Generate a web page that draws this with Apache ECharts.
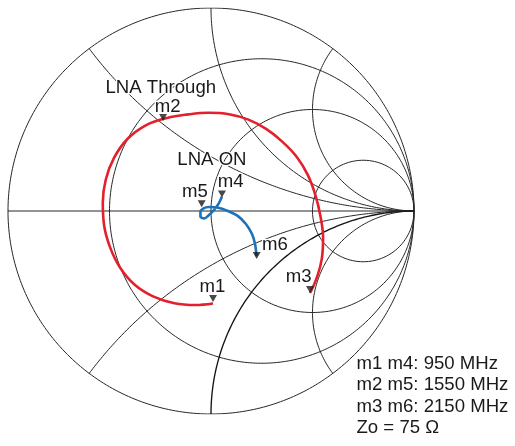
<!DOCTYPE html>
<html><head><meta charset="utf-8">
<script src="https://cdn.jsdelivr.net/npm/echarts@6/dist/echarts.min.js"></script>
<style>html,body{margin:0;padding:0;background:#fff}#c{width:515px;height:446px}</style>
</head><body><div id="c"></div>
<script>
// ---- Smith chart grid values ----
const resistanceCircles = [0, 1/3, 1, 3];
const reactanceArcs = [0.5, 1, 2, -0.5, -2];
const boldReactanceArcs = [-1];

// ---- Traces (reflection coefficient, real / imaginary) ----
const throughRe = [0.0099,-0.0778,-0.1803,-0.2828,-0.3759,-0.4483,-0.4975,-0.5266,-0.5330,-0.5182,-0.4778,-0.4118,-0.3212,-0.2163,-0.1123,-0.0118,0.0882,0.1847,0.2734,0.3522,0.4227,0.4773,0.5148,0.5404,0.5522,0.5458,0.5241,0.4877];
const throughIm = [-0.4557,-0.4631,-0.4542,-0.4217,-0.3631,-0.2783,-0.1778,-0.0700,0.0424,0.1552,0.2616,0.3547,0.4222,0.4586,0.4759,0.4837,0.4768,0.4502,0.4030,0.3404,0.2660,0.1768,0.0764,-0.0325,-0.1315,-0.2360,-0.3197,-0.4039];
const onRe = [0.054,0.039,0.015,-0.010,-0.034,-0.052,-0.052,-0.039,-0.010,0.030,0.079,0.133,0.172,0.202,0.217,0.224];
const onIm = [0.071,0.039,0.005,-0.020,-0.037,-0.027,-0.005,0.012,0.020,0.017,0.002,-0.025,-0.064,-0.113,-0.163,-0.222];

// ---- Markers ----
const markerNames = ['m1','m2','m3','m4','m5','m6'];
const markerRe = [0.010,-0.236,0.488,0.054,-0.046,0.225];
const markerIm = [-0.448,0.443,-0.404,0.0665,0.018,-0.236];

// ---- Texts ----
const traceNames = ['LNA Through','LNA ON'];
const noteLines = ['m1 m4: 950 MHz','m2 m5: 1550 MHz','m3 m6: 2150 MHz','Zo = 75 \u03A9'];

// ---- layout (pixels) ----
const LABEL_OFF = [[-0.5,-8.7],[4.5,-7.7],[-11.5,-10],[8.8,-9.2],[-6.7,-9],[18.3,-7.3]];
const FONT = '"Liberation Sans", Arial, sans-serif';
const FS = 18.6;
const MID = FS*0.3465;

function rCircle(r){
  const c=r/(1+r), rad=1/(1+r), p=[];
  for(let i=0;i<=720;i++){const a=i*Math.PI/360;p.push([c+rad*Math.cos(a),rad*Math.sin(a)]);}
  return p;
}
function xArc(x){
  const p=[],N=600;
  for(let i=0;i<N;i++){
    const r=Math.tan(i/N*Math.PI/2);
    const den=(r+1)*(r+1)+x*x;
    p.push([(r*r+x*x-1)/den, 2*x/den]);
  }
  p.push([1,0]);
  return p;
}
const gridStyle={color:'#262626',width:1};
const series=[];
function addLine(data,style){
  series.push({type:'line',data:data,showSymbol:false,symbol:'none',silent:true,animation:false,
    lineStyle:style,z:1});
}
resistanceCircles.forEach(r=>addLine(rCircle(r),gridStyle));
reactanceArcs.forEach(x=>addLine(xArc(x),gridStyle));
boldReactanceArcs.forEach(x=>addLine(xArc(x),{color:'#141414',width:1.35}));
addLine([[-1,0],[1,0]],gridStyle);

series.push({type:'line',name:traceNames[0],data:throughRe.map((v,i)=>[v,throughIm[i]]),
  smooth:0.4,showSymbol:false,symbol:'none',animation:false,z:3,
  lineStyle:{color:'#e3202b',width:2.6}});
series.push({type:'line',name:traceNames[1],data:onRe.map((v,i)=>[v,onIm[i]]),
  smooth:0.35,showSymbol:false,symbol:'none',animation:false,z:4,
  lineStyle:{color:'#1b72ba',width:2.6}});
series.push({type:'scatter',data:markerRe.map((v,i)=>[v,markerIm[i]]),
  symbol:'path://M0,0L8,0L4,7Z',symbolSize:[8,7],symbolOffset:[0,'-50%'],
  itemStyle:{color:'#1a1a1a'},animation:false,z:5,silent:true});

const chart=echarts.init(document.getElementById('c'),null,{renderer:'canvas'});
chart.setOption({
  backgroundColor:'#fff',
  animation:false,
  grid:{left:8,top:8,width:406,height:406},
  xAxis:{type:'value',min:-1,max:1,show:false},
  yAxis:{type:'value',min:-1,max:1,show:false},
  series:series
});

const txtStyle=(t,x,y,align)=>({type:'text',z:10,x:x,y:y,style:{text:t,fontSize:FS,fontFamily:FONT,fill:'#1a1a1a',
  align:align,verticalAlign:'middle',stroke:'#fff',lineWidth:2.5}});
const graphics=[];
markerNames.forEach((n,i)=>{
  const p=chart.convertToPixel({xAxisIndex:0,yAxisIndex:0},[markerRe[i],markerIm[i]]);
  graphics.push(txtStyle(n,p[0]+LABEL_OFF[i][0],p[1]+LABEL_OFF[i][1]-MID,'center'));
});
graphics.push(txtStyle(traceNames[0],105.5,94-MID,'left'));
graphics.push(txtStyle(traceNames[1],177.3,166.7-MID,'left'));
const noteBase=[370.7,391.7,412.9,434];
noteLines.forEach((t,i)=>graphics.push(txtStyle(t,356.5,noteBase[i]-MID,'left')));
chart.setOption({graphic:graphics});
</script></body></html>
